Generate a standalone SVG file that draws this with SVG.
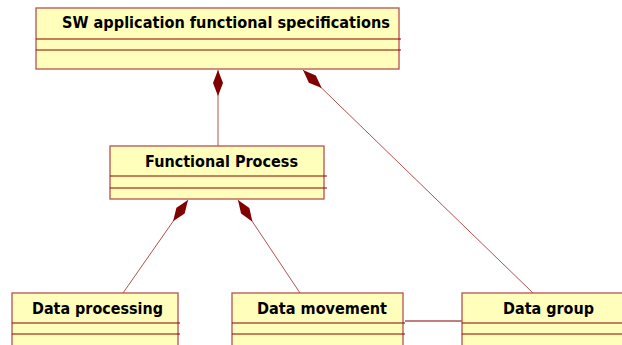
<svg xmlns="http://www.w3.org/2000/svg" width="622" height="345" viewBox="0 0 622 345">
<style>
.box{fill:#ffffbb;stroke:#b85050;stroke-width:1.3}
.sep{stroke:#8b0000;stroke-width:1}
.lbl{font-family:"DejaVu Sans",Verdana,sans-serif;font-weight:bold;font-size:15px;fill:#000}
.conn{stroke:#a83c3c;stroke-width:0.9;fill:none}
.assoc{stroke:#800000;stroke-width:1.1;fill:none}
</style>
<defs>
<marker id="dia" markerUnits="userSpaceOnUse" markerWidth="30" markerHeight="12" refX="0" refY="6" orient="auto" viewBox="0 0 30 12">
<path d="M0,6 L13,1 L26,6 L13,11 Z" fill="#800000"/>
</marker>
</defs>
<rect width="622" height="345" fill="#fff"/>
<g id="connectors">
<line class="conn" x1="218" y1="70" x2="218" y2="146" marker-start="url(#dia)"/>
<line class="conn" x1="303" y1="70" x2="533" y2="293" marker-start="url(#dia)"/>
<line class="conn" x1="188" y1="200" x2="123" y2="293" marker-start="url(#dia)"/>
<line class="conn" x1="238" y1="200" x2="300" y2="293" marker-start="url(#dia)"/>
<line class="assoc" x1="405" y1="321" x2="462" y2="321"/>
</g>
<g id="sw-app">
<rect class="box" x="36" y="8" width="363" height="61"/>
<line class="sep" x1="36" y1="39" x2="401" y2="39"/>
<line class="sep" x1="36" y1="50" x2="401" y2="50"/>
<text class="lbl" x="62" y="28" textLength="328" lengthAdjust="spacingAndGlyphs">SW application functional specifications</text>
</g>
<g id="functional-process">
<rect class="box" x="110" y="146" width="214" height="53"/>
<line class="sep" x1="110" y1="176" x2="327" y2="176"/>
<line class="sep" x1="110" y1="188" x2="327" y2="188"/>
<text class="lbl" x="145" y="167" textLength="153" lengthAdjust="spacingAndGlyphs">Functional Process</text>
</g>
<g id="data-processing">
<rect class="box" x="12" y="293" width="166" height="60"/>
<line class="sep" x1="12" y1="323" x2="180" y2="323"/>
<line class="sep" x1="12" y1="334" x2="180" y2="334"/>
<text class="lbl" x="32" y="314" textLength="131" lengthAdjust="spacingAndGlyphs">Data processing</text>
</g>
<g id="data-movement">
<rect class="box" x="232" y="293" width="171" height="60"/>
<line class="sep" x1="232" y1="323" x2="405" y2="323"/>
<line class="sep" x1="232" y1="334" x2="405" y2="334"/>
<text class="lbl" x="257" y="314" textLength="130" lengthAdjust="spacingAndGlyphs">Data movement</text>
</g>
<g id="data-group">
<rect class="box" x="462" y="293" width="170" height="60"/>
<line class="sep" x1="462" y1="323" x2="632" y2="323"/>
<line class="sep" x1="462" y1="334" x2="632" y2="334"/>
<text class="lbl" x="503" y="314" textLength="91" lengthAdjust="spacingAndGlyphs">Data group</text>
</g>
</svg>
